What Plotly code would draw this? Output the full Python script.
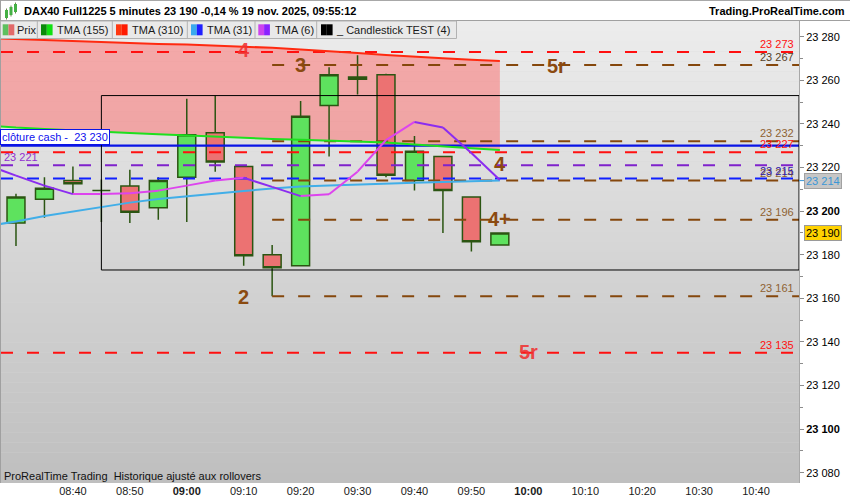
import plotly.graph_objects as go

# ---------------- data ----------------
DAY = "2025-11-19"
bar_times = ["08:30", "08:35", "08:40", "08:45", "08:50", "08:55", "09:00", "09:05", "09:10",
             "09:15", "09:20", "09:25", "09:30", "09:35", "09:40", "09:45", "09:50", "09:55"]
opens = [23194.5, 23205.5, 23214.0, 23209.5, 23211.5, 23201.5, 23215.5, 23236.0, 23220.5,
         23180.0, 23175.0, 23248.5, 23261.5, 23262.5, 23214.0, 23225.0, 23206.5, 23184.5]
highs = [23208.0, 23215.5, 23220.5, 23214.5, 23219.0, 23215.5, 23251.5, 23253.0, 23220.5,
         23184.5, 23250.5, 23266.0, 23271.5, 23263.0, 23234.5, 23225.0, 23206.5, 23190.0]
lows = [23184.0, 23197.0, 23208.0, 23195.0, 23194.5, 23196.0, 23195.0, 23218.0, 23175.0,
        23161.0, 23175.0, 23225.0, 23253.5, 23215.5, 23209.5, 23190.0, 23181.5, 23184.5]
closes = [23206.5, 23210.5, 23212.5, 23209.5, 23199.5, 23214.0, 23235.0, 23222.5, 23179.5,
          23174.0, 23243.5, 23262.5, 23260.5, 23216.5, 23227.5, 23209.5, 23186.0, 23190.0]

ma_times = ["08:25"] + bar_times
tma155 = [23239.3, 23238.3, 23237.7, 23237.0, 23236.4, 23235.8, 23235.3, 23234.7, 23234.1, 23233.5,
          23233.1, 23232.7, 23232.3, 23231.9, 23231.5, 23230.6, 23229.6, 23228.8, 23228.0]
tma310 = [23279.4, 23278.9, 23278.5, 23278.0, 23277.6, 23277.1, 23276.7, 23276.4, 23275.9, 23275.5,
          23274.9, 23274.1, 23273.4, 23272.5, 23271.6, 23270.7, 23270.1, 23269.4, 23268.9]
tma31 = [23193.2, 23195.2, 23197.8, 23199.9, 23202.1, 23203.9, 23205.6, 23206.9, 23208.1, 23209.2,
         23210.4, 23211.3, 23211.7, 23212.2, 23212.7, 23213.0, 23213.3, 23213.7, 23214.0]
tma6 = [23221.1, 23216.3, 23211.7, 23207.8, 23207.9, 23208.2, 23209.4, 23211.7, 23214.0, 23215.3,
        23211.1, 23206.9, 23207.7, 23218.1, 23232.6, 23240.9, 23238.4, 23226.7, 23214.3]

red_levels = [23273, 23227, 23135]
purple_level = 23221
blue_dash_level = 23215
cash_close = 23230
brown_levels = [23267, 23232, 23214, 23196, 23161]
brown_start = "09:15"

box_start = "08:45"
box_top = 23253
box_bottom = 23173

pattern_labels = [("4", "09:10", 23273.9, "red"), ("3", "09:20", 23267.0, "brown"),
                  ("5r", "10:05", 23266.6, "brown"), ("4", "09:55", 23221.4, "brown"),
                  ("4+", "09:55", 23196.6, "brown"), ("2", "09:10", 23160.6, "brown"),
                  ("5r", "10:00", 23135.4, "red")]

x_tick_times = ["08:40", "08:50", "09:00", "09:10", "09:20", "09:30", "09:40", "09:50",
                "10:00", "10:10", "10:20", "10:30", "10:40"]
bold_x_ticks = ["09:00", "10:00"]
y_tick_vals = [23080, 23100, 23120, 23140, 23160, 23180, 23200, 23220, 23240, 23260, 23280]
bold_y_ticks = [23100, 23200]

X_START = "2025-11-19 08:27:22"
X_END = "2025-11-19 10:47:33"
X_DASH_END = "2025-11-19 10:46:30"
Y_MIN, Y_MAX = 23075.3, 23287.2

header_text = "DAX40 Full1225 5 minutes 23 190 -0,14 % 19 nov. 2025, 09:55:12"
site_text = "Trading.ProRealTime.com"
footer_text = "ProRealTime Trading\u00a0\u00a0Historique ajusté aux rollovers"
legend_items = ["Prix", "TMA (155)", "TMA (310)", "TMA (31)", "TMA (6)", "_ Candlestick TEST (4)"]


def ts(hm):
    return f"{DAY} {hm}:00"


def fmt(v):
    s = f"{int(round(v)):,}"
    return s.replace(",", " ")


# -------------- geometry helpers --------------
W, H = 850, 500
PL, PR, PT, PB = 1, 799, 21, 483


def fx(x):
    return (x - PL) / (PR - PL)


def fy(y):
    return (PB - y) / (PB - PT)


FONT = "Liberation Sans, Arial, sans-serif"
RED = "#ff1010"
BROWN = "#85470c"
BROWN_TXT = "#8e6232"
PURPLE = "#7f22cc"
BLUE_D = "#1020ff"
BLUE = "#0a14e6"
DASH = "12px,14px"

fig = go.Figure()
mx = [ts(t) for t in ma_times]

# candles
fig.add_trace(go.Candlestick(
    x=[ts(t) for t in bar_times], open=opens, high=highs, low=lows, close=closes,
    increasing=dict(fillcolor="#5ee25e", line=dict(color="#2b5512", width=1.5)),
    decreasing=dict(fillcolor="#ec7272", line=dict(color="#2b5512", width=1.5)),
    whiskerwidth=0, hoverinfo="skip"))


def hline(level, x0, x1, color, dash=None, width=2):
    fig.add_trace(go.Scatter(x=[x0, x1], y=[level, level], mode="lines",
                             line=dict(color=color, width=width, dash=dash), hoverinfo="skip"))


for lv in red_levels:
    hline(lv, X_START, X_DASH_END, RED, DASH)
hline(purple_level, X_START, X_DASH_END, PURPLE, DASH)
hline(blue_dash_level, X_START, X_DASH_END, BLUE_D, DASH)
for lv in brown_levels:
    hline(lv, ts(brown_start), X_END, BROWN, DASH)
hline(cash_close, X_START, X_END, BLUE, None, 2.2)

# moving averages
fig.add_trace(go.Scatter(x=mx, y=tma155, mode="lines", line=dict(color="#1ee01e", width=2), hoverinfo="skip"))
fig.add_trace(go.Scatter(x=mx, y=tma310, mode="lines", line=dict(color="#ff2a10", width=2), hoverinfo="skip"))
fig.add_trace(go.Scatter(x=mx, y=tma31, mode="lines", line=dict(color="#41aee8", width=2), hoverinfo="skip"))

rx, ry, dx, dy = [], [], [], []
for i in range(len(tma6) - 1):
    seg_x = [mx[i], mx[i + 1], None]
    seg_y = [tma6[i], tma6[i + 1], None]
    if tma6[i + 1] >= tma6[i]:
        rx += seg_x; ry += seg_y
    else:
        dx += seg_x; dy += seg_y
fig.add_trace(go.Scatter(x=rx, y=ry, mode="lines", line=dict(color="#dd44ee", width=2), hoverinfo="skip"))
fig.add_trace(go.Scatter(x=dx, y=dy, mode="lines", line=dict(color="#8b2cf0", width=2), hoverinfo="skip"))

shapes = []
# background gradient
N = 46
top_c, bot_c = (237, 237, 237), (190, 190, 190)
for k in range(N):
    y0 = PT + k * (PB - PT) / N
    y1 = PT + (k + 1) * (PB - PT) / N
    t = (k + 0.5) / N
    c = tuple(int(round(top_c[j] + t * (bot_c[j] - top_c[j]))) for j in range(3))
    shapes.append(dict(type="rect", xref="paper", yref="paper", x0=0, x1=1, y0=fy(y1), y1=fy(y0),
                       fillcolor=f"rgb{c}", line=dict(width=0), layer="below"))

# pink cloud between TMA 310 and TMA 155 (below the candles)
pts_up = [(m.replace(" ", "_"), v) for m, v in zip(mx, tma310)]
pts_dn = [(m.replace(" ", "_"), v) for m, v in zip(mx, tma155)][::-1]
cloud = "M " + " L ".join(f"{a},{b}" for a, b in pts_up + pts_dn) + " Z"
shapes.append(dict(type="path", xref="x", yref="y", path=cloud, fillcolor="rgba(255,95,95,0.47)",
                   line=dict(width=0), layer="below"))

# pattern box
shapes.append(dict(type="rect", xref="x", yref="y", x0=ts(box_start), x1=X_END, y0=box_bottom, y1=box_top,
                   line=dict(color="black", width=1), fillcolor="rgba(0,0,0,0)", layer="above"))


def prect(x0, y0, x1, y1, fill, line=None, lw=0):
    shapes.append(dict(type="rect", xref="paper", yref="paper", x0=fx(x0), x1=fx(x1), y0=fy(y1), y1=fy(y0),
                       fillcolor=fill, line=dict(color=line or fill, width=lw), layer="above"))


def pline(x0, y0, x1, y1, color, w=1):
    shapes.append(dict(type="line", xref="paper", yref="paper", x0=fx(x0), x1=fx(x1), y0=fy(y0), y1=fy(y1),
                       line=dict(color=color, width=w), layer="above"))


# header borders
pline(0, 0.5, 850, 0.5, "#a8a8a8")
pline(0, 20.5, 850, 20.5, "#a0a0a0")
pline(0.5, 0, 0.5, 483, "#a0a0a0")

# header icon (tiny candles)
for cx, yt, yb in [(6.5, 10, 18), (11, 7, 15), (15.5, 4, 12)]:
    pline(cx, yt - 1.5, cx, yb + 1.5, "#6a8a4a", 1)
    prect(cx - 1.5, yt, cx + 1.5, yb, "#44b044")

# legend row
prect(0.5, 21, 456.5, 38.5, "#e9e9e9", "#b2b2b2", 1)
for xd in [37.3, 112.3, 187.3, 255, 316.7]:
    pline(xd, 21, xd, 38.5, "#b2b2b2")
sw = [(2.7, "#5ec05e", "#e26a6a"), (41, "#0a8a0a", "#11e011"), (116, "#ff3810", "#ff1a00"),
      (191, "#3aaaee", "#2020ff"), (258.3, "#cc44ee", "#8a22ff"), (321, "#000000", "#000000")]
for x0, c1, c2 in sw:
    prect(x0, 24.3, x0 + 5.8, 35.3, c1)
    prect(x0 + 5.8, 24.3, x0 + 11.6, 35.3, c2)

annotations = []


def ann(text, x, y, size=11, color="#111", xanchor="left", yanchor="middle", bold=False, **kw):
    annotations.append(dict(text=f"<b>{text}</b>" if bold else text, xref="paper", yref="paper",
                            x=fx(x), y=fy(y), xanchor=xanchor, yanchor=yanchor, showarrow=False,
                            font=dict(family=FONT, size=size, color=color), **kw))


ann(header_text, 22, 10.5, 11, "#000", bold=True)
ann(site_text, 847, 10.5, 11, "#000", xanchor="right", bold=True)
legend_x = [14.5, 54.5, 129.5, 204.5, 272.5, 333.5]
for lx, txt in zip(legend_x, legend_items):
    ann(txt, lx, 30, 11, "#1a1a1a")
ann(footer_text, 1.5, 476, 11, "#111")

# level labels (right side)
level_label_colors = {}
for lv in red_levels:
    level_label_colors[lv] = RED
for lv in brown_levels:
    level_label_colors[lv] = BROWN_TXT
level_label_colors[brown_levels[0]] = "#55401f"
for lv, col in level_label_colors.items():
    annotations.append(dict(text=fmt(lv), xref="paper", yref="y", x=fx(796), y=lv, yshift=8,
                            xanchor="right", yanchor="middle", showarrow=False,
                            font=dict(family=FONT, size=11, color=col)))
annotations.append(dict(text=fmt(blue_dash_level), xref="paper", yref="y", x=fx(796), y=blue_dash_level,
                        yshift=7, xanchor="right", yanchor="middle", showarrow=False,
                        font=dict(family=FONT, size=11, color="#3020a8")))
annotations.append(dict(text=fmt(purple_level), xref="paper", yref="y", x=fx(1.5), y=purple_level, yshift=8,
                        xanchor="left", yanchor="middle", showarrow=False,
                        font=dict(family=FONT, size=11, color="#9030d0")))

# cash close box
annotations.append(dict(text=f"clôture cash -\u00a0\u00a0{fmt(cash_close)}", xref="paper", yref="y",
                        x=fx(0), y=cash_close, yshift=1, xanchor="left", yanchor="bottom", showarrow=False,
                        bgcolor="white", bordercolor=BLUE, borderwidth=1, borderpad=1,
                        font=dict(family=FONT, size=11, color="#1010ee")))

# right-axis price boxes
annotations.append(dict(text=fmt(tma31[-1]), xref="paper", yref="y", x=fx(804), y=tma31[-1],
                        xanchor="left", yanchor="middle", showarrow=False, bgcolor="#c6c6c6",
                        bordercolor="#a2a2a2", borderwidth=1, borderpad=1,
                        font=dict(family=FONT, size=11, color="#3a96d6")))
annotations.append(dict(text=fmt(closes[-1]), xref="paper", yref="y", x=fx(804), y=closes[-1],
                        xanchor="left", yanchor="middle", showarrow=False, bgcolor="#ffd200",
                        bordercolor="#9a9a9a", borderwidth=1, borderpad=1,
                        font=dict(family=FONT, size=11, color="#000")))
shapes.append(dict(type="line", xref="paper", yref="y", x0=fx(799), x1=fx(805), y0=tma31[-1], y1=tma31[-1],
                   line=dict(color="#3a96d6", width=1)))

# pattern labels
pcol = {"red": "rgba(240,50,50,0.9)", "brown": "#8b4a10"}
for txt, t, yv, c in pattern_labels:
    annotations.append(dict(text=f"<b>{txt}</b>", xref="x", yref="y", x=ts(t), y=yv,
                            xanchor="center", yanchor="middle", showarrow=False,
                            font=dict(family=FONT, size=20, color=pcol[c])))

fig.update_layout(
    width=W, height=H, margin=dict(l=PL, r=W - PR, t=PT, b=H - PB),
    paper_bgcolor="white", plot_bgcolor="#d6d6d6", showlegend=False, hovermode=False,
    boxgap=0.1, font=dict(family=FONT, size=11, color="#111"),
    shapes=shapes, annotations=annotations,
    xaxis=dict(type="date", range=[X_START, X_END], rangeslider=dict(visible=False),
               tickmode="array", tickvals=[ts(t) for t in x_tick_times],
               ticktext=[f"<b>{t}</b>" if t in bold_x_ticks else t for t in x_tick_times],
               showgrid=False, zeroline=False, ticks="", showline=False,
               tickfont=dict(family=FONT, size=11, color="#1a1a1a")),
    yaxis=dict(side="right", range=[Y_MIN, Y_MAX], tickmode="array", tickvals=y_tick_vals,
               ticktext=[f"<b>{fmt(v)}</b>" if v in bold_y_ticks else fmt(v) for v in y_tick_vals],
               ticks="outside", ticklen=4, tickcolor="#8c8c8c",
               minor=dict(tickmode="linear", tick0=23080, dtick=10, ticks="outside", ticklen=3,
                          tickcolor="#8c8c8c", showgrid=False),
               showgrid=False, zeroline=False, showline=True, linecolor="#a8a8a8",
               tickfont=dict(family=FONT, size=11, color="#000")),
)

fig.write_html("out.html", config={"displayModeBar": False},
               post_script="document.body.style.margin='0px';document.body.style.overflow='hidden';")
